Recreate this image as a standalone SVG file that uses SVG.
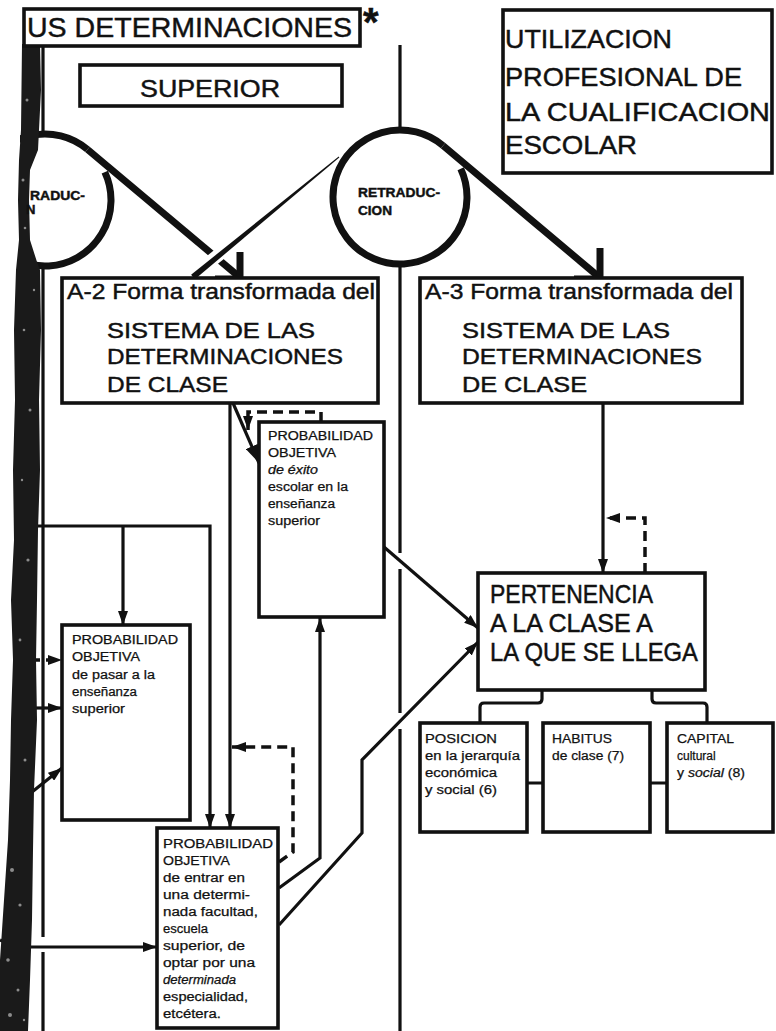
<svg xmlns="http://www.w3.org/2000/svg" width="776" height="1031" viewBox="0 0 776 1031">
<style>
.box{fill:#fff;stroke:#111;stroke-width:3.6}
.ln{fill:none;stroke:#111;stroke-width:3.2}
.dash{fill:none;stroke:#111;stroke-width:3.5;stroke-dasharray:10 6}
.thick{fill:none;stroke:#111;stroke-width:7}
.circ{fill:none;stroke:#111;stroke-width:7}
.big{font-family:"Liberation Sans",Arial,Helvetica,sans-serif;fill:#111;stroke:#111;stroke-width:0.45}
.sm{font-family:"Liberation Sans",Arial,Helvetica,sans-serif;font-size:12px;fill:#111;stroke:#111;stroke-width:0.25}
.it{font-style:italic}
.bd{font-weight:bold}
</style>
<defs>
<marker id="ah" markerUnits="userSpaceOnUse" markerWidth="14" markerHeight="10" refX="14" refY="5" orient="auto"><path d="M0,0 L14,5 L0,10 z" fill="#111"/></marker>
<marker id="ahL" markerUnits="userSpaceOnUse" markerWidth="18" markerHeight="13" refX="18" refY="6.5" orient="auto"><path d="M0,0 L18,6.5 L0,13 z" fill="#111"/></marker>
<clipPath id="clipL"><rect x="20" y="0" width="300" height="400"/></clipPath>
</defs>
<rect width="776" height="1031" fill="#fff"/>

<g id="connectors">
<path class="ln" d="M400 45 V130 M400 264 V553 M400 569 V713 M400 729 V1031"/>
<path class="ln" d="M43 47 V134 M43 266 V937 M43 952 V1031"/>
<path class="thick" d="M87.42 149.44 L240 277.5"/>
<path class="thick" stroke-width="6" stroke-linejoin="miter" d="M240 252 V279 H215"/>
<path class="thick" d="M443.07 145.68 L599 277"/>
<path class="thick" stroke-width="6" stroke-linejoin="miter" d="M600 248 V279 H574"/>
<path d="M232 244 L200 270" stroke="#fff" stroke-width="13" fill="none"/>
<polygon fill="#111" points="338.7,156.6 339.3,157.4 194.9,279.3 191.1,274.7"/>
<path class="ln" d="M603 403 V573" marker-end="url(#ah)"/>
<path class="dash" d="M645 573 V518 H606" marker-end="url(#ah)"/>
<path class="ln" d="M384 547 L478 628" marker-end="url(#ah)"/>
<path class="ln" d="M279 925 L362 833 V760 L478 642" marker-end="url(#ah)"/>
<path class="ln" d="M279 888 L320 858 V618" marker-end="url(#ah)"/>
<path class="dash" d="M279 862 L293 852 V747 H232" marker-end="url(#ah)"/>
<path class="ln" stroke-width="5" d="M233 403 L259 463" marker-end="url(#ahL)"/>
<path class="dash" stroke-width="3" d="M321 422 V412 H248 V430" marker-end="url(#ah)"/>
<path class="ln" d="M230 403 V828" marker-end="url(#ah)"/>
<path class="ln" d="M36 526 H210 V828" marker-end="url(#ah)"/>
<path class="ln" d="M123 526 V625" marker-end="url(#ah)"/>
<path class="dash" d="M30 660 H62" marker-end="url(#ah)"/>
<path class="ln" d="M33 708 H62" marker-end="url(#ah)"/>
<path class="ln" d="M12 808 L62 768" marker-end="url(#ah)"/>
<path class="ln" d="M0 940 Q14 947 30 947 H157" marker-end="url(#ah)"/>
<path class="ln" d="M542 690 V699 Q542 703 538 703 H484 Q480 703 480 707 V723"/>
<path class="ln" d="M652 690 V699 Q652 703 656 703 H703 Q707 703 707 707 V723"/>
<path class="ln" d="M527 783 H543 M650 783 H667"/>
</g>

<g id="retraduccion-left-ring">
<path class="circ" clip-path="url(#clipL)" d="M87.42 149.44 A66 66 0 1 0 104.82 172.11"/>
</g>

<g id="gutter">
<path fill="#1a1a1a" d="M22 44 L40 44 L41 90 L39 130 L38 150 L30 170 L29 200 L30 240 L37 262 L40 270 L41 330 L39 400 L40 470 L38 530 L37 600 L36 660 L37 720 L34 790 L33 850 L32 920 L30 980 L28 1031 L0 1031 L0 960 L4 900 L8 840 L10 780 L11 720 L13 660 L11 600 L14 540 L13 470 L15 400 L14 330 L16 270 L19 240 L18 200 L19 160 L21 130 Z"/>
<g fill="#bdbdbd" opacity="0.7">
<circle cx="27" cy="100" r="1.5"/><circle cx="23" cy="180" r="1.5"/><circle cx="25" cy="228" r="1.3"/><circle cx="34" cy="290" r="1.2"/>
<circle cx="24" cy="330" r="1.3"/><circle cx="30" cy="410" r="1.5"/><circle cx="22" cy="480" r="1.2"/><circle cx="28" cy="560" r="1.6"/>
<circle cx="20" cy="640" r="1.4"/><circle cx="25" cy="760" r="1.5"/><circle cx="12" cy="870" r="2"/><circle cx="20" cy="905" r="1.6"/>
<circle cx="8" cy="960" r="1.8"/><circle cx="18" cy="990" r="1.5"/><circle cx="10" cy="1015" r="2"/><circle cx="24" cy="1020" r="1.2"/>
</g>
</g>

<g id="title">
<rect class="box" x="24" y="9" width="336" height="37"/>
<text class="big" font-size="28" x="27" y="37" textLength="325" lengthAdjust="spacingAndGlyphs">US DETERMINACIONES</text>
<text class="big bd" font-size="40" x="363" y="36">*</text>
</g>

<g id="superior">
<rect class="box" x="80" y="65" width="262" height="41"/>
<text class="big" font-size="24" x="140" y="97" textLength="140" lengthAdjust="spacingAndGlyphs">SUPERIOR</text>
</g>

<g id="utilizacion">
<rect class="box" x="503" y="10" width="269" height="163"/>
<text class="big" font-size="26" x="505" y="48" textLength="167" lengthAdjust="spacingAndGlyphs">UTILIZACION</text>
<text class="big" font-size="26" x="505" y="86" textLength="237" lengthAdjust="spacingAndGlyphs">PROFESIONAL DE</text>
<text class="big" font-size="26" x="505" y="121" textLength="265" lengthAdjust="spacingAndGlyphs">LA CUALIFICACION</text>
<text class="big" font-size="26" x="505" y="154" textLength="132" lengthAdjust="spacingAndGlyphs">ESCOLAR</text>
</g>

<g id="retraduccion-left">
<text class="big bd" font-size="13" x="30" y="200" textLength="55" lengthAdjust="spacingAndGlyphs">RADUC-</text>
<text class="big bd" font-size="13" x="26" y="214">N</text>
</g>

<g id="retraduccion-right">
<path class="circ" d="M443.07 145.68 A67 67 0 1 0 460.72 168.68"/>
<text class="big bd" font-size="13.5" x="358" y="197" textLength="82" lengthAdjust="spacingAndGlyphs">RETRADUC-</text>
<text class="big bd" font-size="13.5" x="358" y="215" textLength="34" lengthAdjust="spacingAndGlyphs">CION</text>
</g>

<g id="a2">
<rect class="box" x="62" y="278" width="316" height="125"/>
<text class="big" font-size="22" x="67" y="299" textLength="308" lengthAdjust="spacingAndGlyphs">A-2 Forma transformada del</text>
<text class="big" font-size="22" x="107" y="338" textLength="208" lengthAdjust="spacingAndGlyphs">SISTEMA DE LAS</text>
<text class="big" font-size="22" x="107" y="364" textLength="236" lengthAdjust="spacingAndGlyphs">DETERMINACIONES</text>
<text class="big" font-size="22" x="107" y="392" textLength="121" lengthAdjust="spacingAndGlyphs">DE CLASE</text>
</g>

<g id="a3">
<rect class="box" x="420" y="278" width="322" height="125"/>
<text class="big" font-size="22" x="425" y="299" textLength="308" lengthAdjust="spacingAndGlyphs">A-3 Forma transformada del</text>
<text class="big" font-size="22" x="462" y="338" textLength="208" lengthAdjust="spacingAndGlyphs">SISTEMA DE LAS</text>
<text class="big" font-size="22" x="462" y="364" textLength="240" lengthAdjust="spacingAndGlyphs">DETERMINACIONES</text>
<text class="big" font-size="22" x="462" y="392" textLength="125" lengthAdjust="spacingAndGlyphs">DE CLASE</text>
</g>

<g id="prob-exito">
<rect class="box" x="259" y="422" width="125" height="195"/>
<text class="sm" x="268" y="440" textLength="105" lengthAdjust="spacingAndGlyphs">PROBABILIDAD</text>
<text class="sm" x="268" y="457" textLength="68" lengthAdjust="spacingAndGlyphs">OBJETIVA</text>
<text class="sm it" x="268" y="474" textLength="50" lengthAdjust="spacingAndGlyphs">de éxito</text>
<text class="sm" x="268" y="491" textLength="80" lengthAdjust="spacingAndGlyphs">escolar en la</text>
<text class="sm" x="268" y="508" textLength="67" lengthAdjust="spacingAndGlyphs">enseñanza</text>
<text class="sm" x="268" y="525" textLength="52" lengthAdjust="spacingAndGlyphs">superior</text>
</g>

<g id="prob-pasar">
<rect class="box" x="62" y="625" width="128" height="195"/>
<text class="sm" x="72" y="644" textLength="106" lengthAdjust="spacingAndGlyphs">PROBABILIDAD</text>
<text class="sm" x="72" y="661" textLength="68" lengthAdjust="spacingAndGlyphs">OBJETIVA</text>
<text class="sm" x="72" y="679" textLength="83" lengthAdjust="spacingAndGlyphs">de pasar a la</text>
<text class="sm" x="72" y="696" textLength="65" lengthAdjust="spacingAndGlyphs">enseñanza</text>
<text class="sm" x="72" y="713" textLength="53" lengthAdjust="spacingAndGlyphs">superior</text>
</g>

<g id="prob-entrar">
<rect class="box" x="157" y="828" width="121" height="200"/>
<text class="sm" x="163" y="848" textLength="110" lengthAdjust="spacingAndGlyphs">PROBABILIDAD</text>
<text class="sm" x="163" y="865" textLength="67" lengthAdjust="spacingAndGlyphs">OBJETIVA</text>
<text class="sm" x="163" y="882" textLength="82" lengthAdjust="spacingAndGlyphs">de entrar en</text>
<text class="sm" x="163" y="899" textLength="87" lengthAdjust="spacingAndGlyphs">una determi-</text>
<text class="sm" x="163" y="916" textLength="95" lengthAdjust="spacingAndGlyphs">nada facultad,</text>
<text class="sm" x="163" y="933" textLength="45" lengthAdjust="spacingAndGlyphs">escuela</text>
<text class="sm" x="163" y="950" textLength="82" lengthAdjust="spacingAndGlyphs">superior, de</text>
<text class="sm" x="163" y="967" textLength="92" lengthAdjust="spacingAndGlyphs">optar por una</text>
<text class="sm it" x="163" y="984" textLength="73" lengthAdjust="spacingAndGlyphs">determinada</text>
<text class="sm" x="163" y="1001" textLength="85" lengthAdjust="spacingAndGlyphs">especialidad,</text>
<text class="sm" x="163" y="1018" textLength="58" lengthAdjust="spacingAndGlyphs">etcétera.</text>
</g>

<g id="pertenencia">
<rect class="box" x="478" y="573" width="227" height="117"/>
<text class="big" font-size="25" x="490" y="603" textLength="163" lengthAdjust="spacingAndGlyphs">PERTENENCIA</text>
<text class="big" font-size="25" x="490" y="632" textLength="163" lengthAdjust="spacingAndGlyphs">A LA CLASE A</text>
<text class="big" font-size="25" x="490" y="661" textLength="208" lengthAdjust="spacingAndGlyphs">LA QUE SE LLEGA</text>
</g>

<g id="posicion">
<rect class="box" x="420" y="723" width="107" height="109"/>
<text class="sm" x="425" y="743" textLength="72" lengthAdjust="spacingAndGlyphs">POSICION</text>
<text class="sm" x="425" y="760" textLength="95" lengthAdjust="spacingAndGlyphs">en la jerarquía</text>
<text class="sm" x="425" y="777" textLength="72" lengthAdjust="spacingAndGlyphs">económica</text>
<text class="sm" x="425" y="794" textLength="72" lengthAdjust="spacingAndGlyphs">y social (6)</text>
</g>

<g id="habitus">
<rect class="box" x="543" y="723" width="107" height="109"/>
<text class="sm" x="552" y="743" textLength="60" lengthAdjust="spacingAndGlyphs">HABITUS</text>
<text class="sm" x="552" y="760" textLength="72" lengthAdjust="spacingAndGlyphs">de clase (7)</text>
</g>

<g id="capital">
<rect class="box" x="667" y="723" width="106" height="109"/>
<text class="sm" x="677" y="743" textLength="57" lengthAdjust="spacingAndGlyphs">CAPITAL</text>
<text class="sm" x="677" y="760">cultural</text>
<text class="sm" x="677" y="777" textLength="68" lengthAdjust="spacingAndGlyphs">y <tspan class="it">social</tspan> (8)</text>
</g>
</svg>
